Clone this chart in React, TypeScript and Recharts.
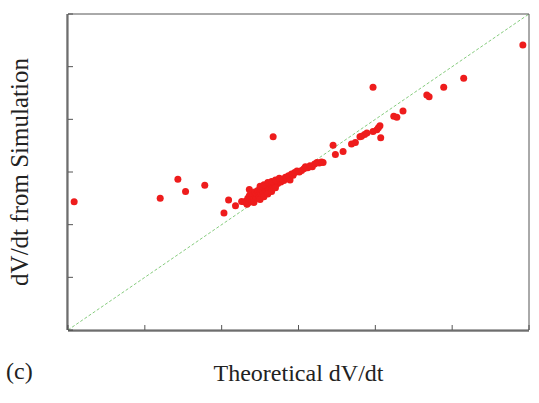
import {
  ScatterChart,
  Scatter,
  XAxis,
  YAxis,
  ReferenceLine,
  Label,
} from "recharts";

const axisTicks = [-3, -2, -1, 0, 1, 2, 3];

// theoretical dV/dt (x) vs simulated dV/dt (y)
const theoretical = [
  -2.92, -1.8, -1.57, -1.47, -1.22, -0.97, -0.91, -0.82, -0.74, -0.7, -0.67, -0.64,
  -0.68, -0.66, -0.65, -0.64, -0.63, -0.62, -0.61, -0.6, -0.59, -0.58, -0.57, -0.56,
  -0.55, -0.54, -0.53, -0.52, -0.51, -0.5, -0.49, -0.48, -0.47, -0.46, -0.45, -0.44,
  -0.43, -0.42, -0.41, -0.4, -0.39, -0.38, -0.37, -0.36, -0.35, -0.33, -0.32, -0.3,
  -0.29, -0.27, -0.25, -0.23, -0.21, -0.19, -0.17, -0.15, -0.13, -0.11, -0.09, -0.07,
  -0.05, -0.02, 0.01, 0.04, 0.07, 0.09, 0.12, 0.15, 0.18, 0.21, 0.24, 0.27, 0.3, 0.32,
  -0.5, -0.45, -0.4, -0.35, -0.3, -0.25, -0.58, -0.5, -0.45, -0.4, -0.35, -0.3,
  -0.33, 0.45, 0.48, 0.58, 0.69, 0.74, 0.8, 0.82, 0.86, 0.89, 0.97, 1.02, 1.04, 1.06,
  1.07, 0.97, 1.24, 1.28, 1.36, 1.67, 1.7, 1.89, 2.15, 2.92,
];
const simulated = [
  -0.565, -0.5, -0.14, -0.37, -0.25, -0.78, -0.53, -0.64, -0.56, -0.57, -0.61, -0.33,
  -0.55, -0.5, -0.58, -0.45, -0.52, -0.4, -0.55, -0.47, -0.43, -0.52, -0.38, -0.46,
  -0.5, -0.41, -0.35, -0.44, -0.48, -0.38, -0.42, -0.33, -0.45, -0.37, -0.3, -0.4,
  -0.34, -0.28, -0.37, -0.31, -0.26, -0.35, -0.29, -0.24, -0.32, -0.27, -0.22, -0.25,
  -0.2, -0.22, -0.17, -0.19, -0.14, -0.16, -0.1, -0.12, -0.07, -0.15, -0.04, -0.06,
  -0.01, 0.02, 0.0, 0.03, 0.06, 0.1, 0.08, 0.12, 0.1, 0.15, 0.18, 0.17, 0.19, 0.18,
  -0.27, -0.24, -0.2, -0.18, -0.15, -0.12, -0.58, -0.52, -0.47, -0.42, -0.37, -0.3,
  0.67, 0.51, 0.33, 0.39, 0.53, 0.56, 0.67, 0.68, 0.71, 0.74, 0.77, 0.8, 0.84, 0.88,
  0.65, 1.61, 1.06, 1.04, 1.16, 1.46, 1.43, 1.61, 1.78, 2.41,
];

const points = theoretical.map((x, i) => ({ x, y: simulated[i] }));

const serif = "'Liberation Serif', 'Times New Roman', serif";
const frame = "#555";
const textColor = "#333";

const Dot = (props: any) => (
  <circle cx={props.cx} cy={props.cy} r={3.5} fill="#ee1c1c" />
);

const Blank = () => <g />;

export default function App() {
  return (
    <div
      style={{
        position: "relative",
        width: 539,
        height: 403,
        background: "#fff",
        fontFamily: serif,
        fontSize: 15,
      }}
    >
      <style>{"body{margin:0}"}</style>
      <ScatterChart
        width={539}
        height={403}
        margin={{ top: 13, right: 9, left: 0, bottom: 0 }}
      >
        {/* frame lines with inward ticks */}
        <XAxis
          type="number"
          dataKey="x"
          domain={[-3, 3]}
          ticks={axisTicks}
          height={1}
          stroke={frame}
          tickSize={-5}
          tick={<Blank />}
        />
        <XAxis
          xAxisId="top"
          orientation="top"
          type="number"
          domain={[-3, 3]}
          ticks={axisTicks}
          height={1}
          stroke={frame}
          tickSize={-5}
          tick={<Blank />}
        />
        <YAxis
          type="number"
          dataKey="y"
          domain={[-3, 3]}
          ticks={axisTicks}
          width={1}
          stroke={frame}
          tickSize={-5}
          tick={<Blank />}
        />
        <YAxis
          yAxisId="right"
          orientation="right"
          type="number"
          domain={[-3, 3]}
          ticks={axisTicks}
          width={1}
          stroke={frame}
          tickSize={-5}
          tick={<Blank />}
        />
        {/* tick labels and titles */}
        <XAxis
          xAxisId="lab"
          type="number"
          domain={[-3, 3]}
          ticks={axisTicks}
          height={72}
          stroke={textColor}
          tickSize={1}
          tickMargin={13}
        >
          <Label
            value="Theoretical dV/dt"
            position="insideBottom"
            offset={22}
            style={{ fontSize: 24, fontFamily: serif, fill: "#222" }}
          />
        </XAxis>
        <YAxis
          yAxisId="lab"
          type="number"
          domain={[-3, 3]}
          ticks={axisTicks}
          width={67}
          stroke={textColor}
          tickSize={1}
          tickMargin={13}
        >
          <Label
            value="dV/dt from Simulation"
            angle={-90}
            position="insideLeft"
            offset={19}
            style={{ fontSize: 25, fontFamily: serif, fill: "#222", textAnchor: "middle" }}
          />
        </YAxis>
        <ReferenceLine
          segment={[
            { x: -3, y: -3 },
            { x: 3, y: 3 },
          ]}
          stroke="#86cc7e"
          strokeDasharray="3 2"
          strokeWidth={1}
        />
        <Scatter data={points} shape={Dot} isAnimationActive={false} />
      </ScatterChart>
      <div
        style={{
          position: "absolute",
          left: 6,
          top: 358,
          fontFamily: serif,
          fontSize: 24,
          color: "#222",
        }}
      >
        (c)
      </div>
    </div>
  );
}
